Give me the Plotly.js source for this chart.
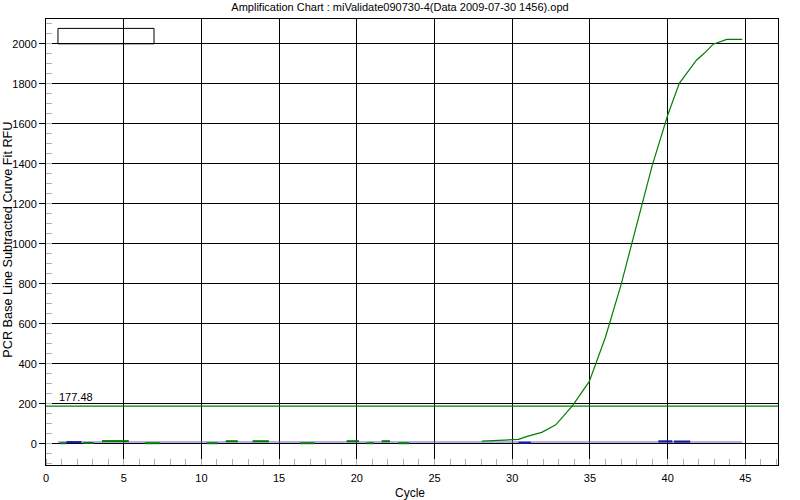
<!DOCTYPE html>
<html>
<head>
<meta charset="utf-8">
<script src="https://cdn.plot.ly/plotly-3.0.1.min.js"></script>
<style>
  html, body { margin: 0; padding: 0; background: #fff; }
  #chart { width: 800px; height: 500px; }
</style>
</head>
<body>
<div id="chart"></div>
<script>
// ---- data ----
const chartTitle = "Amplification Chart : miValidate090730-4(Data 2009-07-30 1456).opd";
const xTitle = "Cycle";
const yTitle = "PCR Base Line Subtracted Curve Fit RFU";

// amplification curve (green)
const curveCycle = [28.05, 28.6, 29.9, 30.4, 30.96, 31.9, 32.8, 33.87, 34.96, 36.0, 37.0, 38.0, 39.0, 40.0, 40.75, 41.85, 42.39, 42.93, 43.8, 44.8];
const curveRFU   = [13,    15,   20,   22,   37,    57,   95,   190,   312,   534,  795,  1095, 1390, 1643, 1802,  1918,  1955,  1998,  2022, 2022];

// flat baseline sample (purple)
const baseCycle = [0.77, 44.8];
const baseRFU   = [9, 9];

// short noise segments near the baseline (green), null = gap
const noiseGreenCycle = [0.9,1.3,null, 2.38,3.07,null, 3.6,5.33,null, 6.36,7.32,null, 10.33,11.04,null, 11.57,12.34,null, 13.29,14.34,null, 16.34,17.3,null, 19.34,20.14,null, 20.63,21.1,null, 21.6,22.13,null, 22.67,23.36];
const noiseGreenRFU   = [3,3,null, 4,4,null, 13.5,13.5,null, 3,3,null, 3,3,null, 13,13,null, 13,13,null, 3,3,null, 13,13,null, 3,3,null, 13,13,null, 3,3];

// short noise segments near the baseline (dark blue)
const noiseBlueCycle = [1.31,2.28,null, 30.4,31.2,null, 39.4,40.3,null, 40.4,41.45];
const noiseBlueRFU   = [8,8,null, 5,5,null, 12,12,null, 11,11];

// threshold
const thresholdRFU = 188;
const thresholdLabel = "177.48";
const xRange = [0, 47.1];
const yRange = [-106, 2124];

const font = "Liberation Sans, Arial, sans-serif";

const traces = [
  { x: xRange, y: [thresholdRFU, thresholdRFU], mode: "lines", line: { color: "#008000", width: 1.3 }, hoverinfo: "skip" },
  { x: baseCycle, y: baseRFU, mode: "lines", line: { color: "#6a62d0", width: 1.2 } },
  { x: noiseGreenCycle, y: noiseGreenRFU, mode: "lines", connectgaps: false, line: { color: "#007a00", width: 2 } },
  { x: noiseBlueCycle, y: noiseBlueRFU, mode: "lines", connectgaps: false, line: { color: "#1a1aa0", width: 2.2 } },
  { x: curveCycle, y: curveRFU, mode: "lines", line: { color: "#008000", width: 1.2 } }
];

const layout = {
  width: 800, height: 500,
  margin: { l: 46, r: 22, t: 19, b: 35 },
  paper_bgcolor: "#fff", plot_bgcolor: "#fff",
  showlegend: false,
  font: { family: font, size: 11, color: "#000" },
  title: { text: chartTitle, x: 0.5, xref: "container", xanchor: "center", y: 0.986, yref: "container", yanchor: "middle", font: { family: font, size: 11, color: "#000" } },
  xaxis: {
    range: xRange, dtick: 5, tick0: 0,
    showgrid: true, gridcolor: "#000", gridwidth: 1,
    zeroline: false,
    showline: true, linecolor: "#000", linewidth: 1, mirror: true,
    ticks: "outside", ticklen: 3, tickcolor: "rgba(0,0,0,0)",
    tickfont: { family: font, size: 11, color: "#000" },
    minor: { dtick: 1, tick0: 0, ticks: "inside", ticklen: 6, tickcolor: "#b0b0b0", tickwidth: 1, showgrid: false }
  },
  yaxis: {
    range: yRange, dtick: 200, tick0: 0,
    showgrid: true, gridcolor: "#000", gridwidth: 1,
    zeroline: false,
    showline: true, linecolor: "#000", linewidth: 1, mirror: true,
    ticks: "outside", ticklen: 6, tickcolor: "#000",
    tickfont: { family: font, size: 11, color: "#000" },
    minor: { dtick: 50, tick0: 0, ticks: "inside", ticklen: 6, tickcolor: "#b0b0b0", tickwidth: 1, showgrid: false }
  },
  shapes: [
    { type: "rect", xref: "x", yref: "y", x0: 0.77, x1: 6.95, y0: 2000, y1: 2077, line: { color: "#000", width: 1 }, fillcolor: "rgba(0,0,0,0)", layer: "above" }
  ],
  annotations: [
    { text: thresholdLabel, xref: "x", yref: "y", x: 0.7, y: thresholdRFU, xanchor: "left", yanchor: "bottom", yshift: 1, showarrow: false, font: { family: font, size: 11, color: "#000" } },
    { text: xTitle, xref: "paper", yref: "paper", x: 0.497, y: -0.063, xanchor: "center", yanchor: "middle", showarrow: false, font: { family: font, size: 12, color: "#000" } },
    { text: yTitle, xref: "paper", yref: "paper", x: -0.052, y: 0.505, xanchor: "center", yanchor: "middle", textangle: -90, showarrow: false, font: { family: font, size: 12.7, color: "#000" } }
  ]
};

Plotly.newPlot("chart", traces, layout, { staticPlot: true, displayModeBar: false });
</script>
</body>
</html>
